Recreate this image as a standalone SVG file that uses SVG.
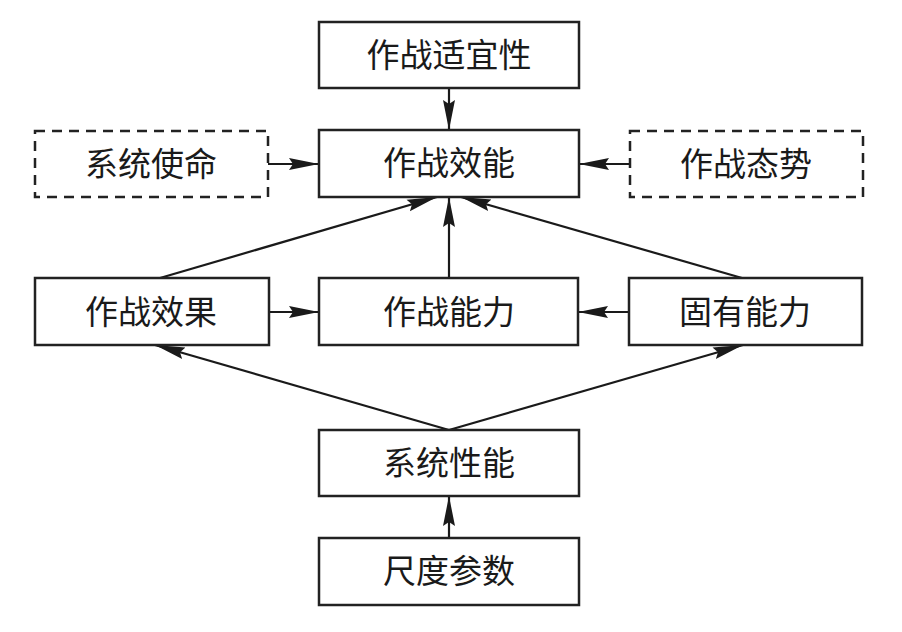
<svg xmlns="http://www.w3.org/2000/svg" width="902" height="632" viewBox="0 0 902 632">
<style>
.box{fill:#fff;stroke:#222;stroke-width:2.5}
.dash{stroke-dasharray:10 7}
.lbl{font-family:"Noto Sans CJK SC","Noto Sans CJK JP",sans-serif;font-size:33px;fill:#1a1a1a;text-anchor:middle}
.ln{stroke:#1a1a1a;stroke-width:2.2;fill:none;marker-end:url(#ah)}
</style>
<defs>
<marker id="ah" markerUnits="userSpaceOnUse" markerWidth="34" markerHeight="16" refX="30" refY="7" orient="auto" viewBox="0 0 34 16">
<path d="M0,1 L30,7 L0,13 L4,7 Z" fill="#1a1a1a"/>
</marker>
</defs>
<rect width="902" height="632" fill="#fff"/>
<g id="connectors">
<line class="ln" x1="449" y1="88" x2="449" y2="130"/>
<line class="ln" x1="268" y1="164" x2="319" y2="164"/>
<line class="ln" x1="630" y1="164" x2="579" y2="164"/>
<line class="ln" x1="160" y1="278" x2="437" y2="197"/>
<line class="ln" x1="449" y1="278" x2="449" y2="197"/>
<line class="ln" x1="742" y1="278" x2="461" y2="197"/>
<line class="ln" x1="269" y1="312" x2="319" y2="312"/>
<line class="ln" x1="629" y1="312" x2="578" y2="312"/>
<line class="ln" x1="449" y1="430" x2="155" y2="345"/>
<line class="ln" x1="449" y1="430" x2="743" y2="345"/>
<line class="ln" x1="449" y1="538" x2="449" y2="496"/>
</g>
<g id="n-shiyixing"><rect class="box" x="319" y="22" width="260" height="66"/><text class="lbl" x="449" y="67">作战适宜性</text></g>
<g id="n-shiming"><rect class="box dash" x="35" y="131" width="233" height="66"/><text class="lbl" x="151" y="176">系统使命</text></g>
<g id="n-xiaoneng"><rect class="box" x="319" y="130" width="260" height="67"/><text class="lbl" x="449" y="175">作战效能</text></g>
<g id="n-taishi"><rect class="box dash" x="630" y="131" width="233" height="66"/><text class="lbl" x="746" y="176">作战态势</text></g>
<g id="n-xiaoguo"><rect class="box" x="35" y="278" width="234" height="67"/><text class="lbl" x="151" y="324">作战效果</text></g>
<g id="n-nengli"><rect class="box" x="319" y="278" width="259" height="67"/><text class="lbl" x="449" y="324">作战能力</text></g>
<g id="n-guyou"><rect class="box" x="629" y="278" width="233" height="67"/><text class="lbl" x="745" y="324">固有能力</text></g>
<g id="n-xingneng"><rect class="box" x="319" y="430" width="260" height="66"/><text class="lbl" x="449" y="475">系统性能</text></g>
<g id="n-canshu"><rect class="box" x="319" y="538" width="260" height="67"/><text class="lbl" x="449" y="583">尺度参数</text></g>
</svg>
